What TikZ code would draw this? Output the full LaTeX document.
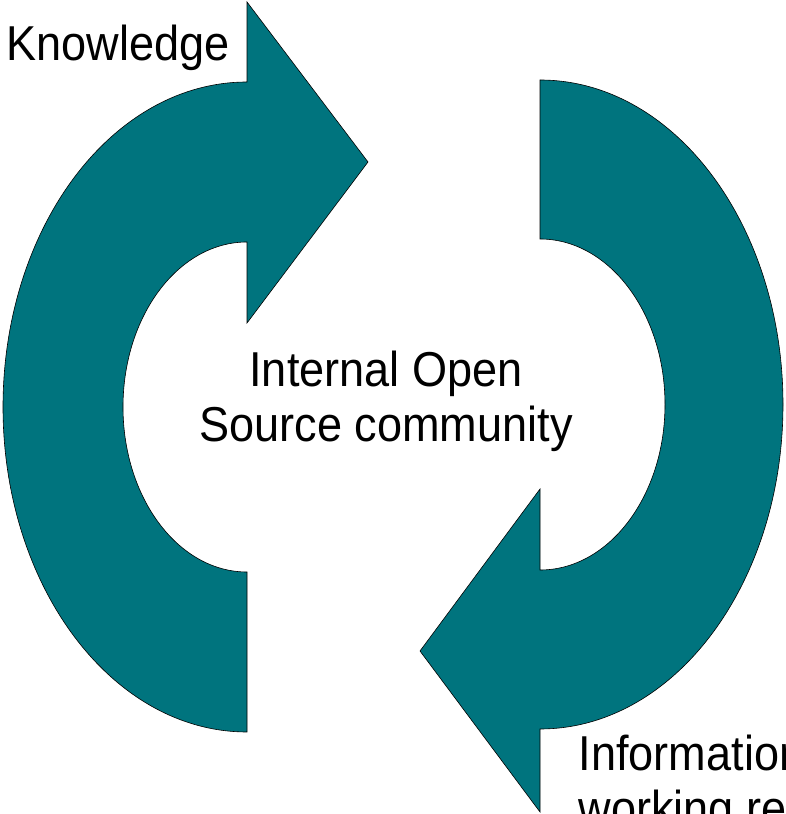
\documentclass[tikz,border=0pt]{standalone}
\usepackage{fontspec}
\setmainfont{Liberation Sans}[FakeStretch=0.92]
\definecolor{teal1}{RGB}{0,116,126}
\begin{document}
\begin{tikzpicture}[x=1pt,y=1pt,
  arrowshape/.style={fill=teal1,draw=black,line width=0.6pt,line join=miter},
  lbl/.style={inner sep=0pt,font=\fontsize{49}{55}\selectfont,text=black}]
\useasboundingbox (0,0) rectangle (786,814);
\clip (0,0) rectangle (786,814);
% left arrow
\draw[arrowshape] (247,82) arc[start angle=270,end angle=90,x radius=244,y radius=325]
  -- (247,812) -- (368,652) -- (247,491) -- (247,572)
  arc[start angle=90,end angle=270,x radius=124,y radius=165] -- cycle;
% right arrow
\draw[arrowshape] (540,734) arc[start angle=90,end angle=-90,x radius=243,y radius=324.5]
  -- (540,2) -- (420,163) -- (540,325) -- (540,244)
  arc[start angle=-90,end angle=90,x radius=125,y radius=165.5] -- cycle;
% labels
\node[lbl,anchor=base west] (know) at (6.5,753) {Knowledge};
\node[lbl,anchor=base] (c1) at (386,427) {Internal Open};
\node[lbl,anchor=base] (c2) at (386,372) {Source community};
\node[lbl,anchor=base west] (info1) at (578.5,43) {Information};
\node[lbl,anchor=base west] (info2) at (578.5,-12) {working re};
\end{tikzpicture}
\end{document}
